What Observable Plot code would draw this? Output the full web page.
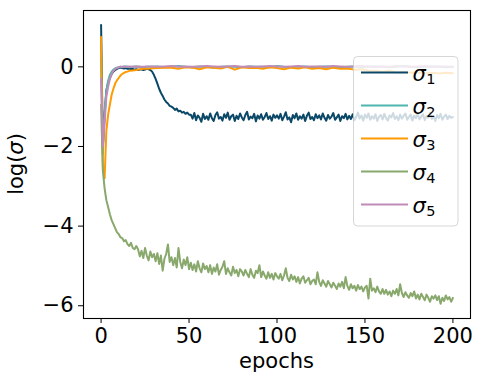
<!DOCTYPE html>
<html>
<head>
<meta charset="utf-8">
<script src="https://cdn.jsdelivr.net/npm/d3@7"></script>
<script src="https://cdn.jsdelivr.net/npm/@observablehq/plot@0.6"></script>
<style>
  html, body { margin: 0; padding: 0; background: #fff; }
  #chart svg { display: block; }
</style>
</head>
<body>
<div id="chart"></div>
<script>
// ---- data ----
const seriesNames = ["σ1", "σ2", "σ3", "σ4", "σ5"];
const seriesSubs = ["1", "2", "3", "4", "5"];
const seriesColors = ["#0b4868", "#4fb5ae", "#ff9a00", "#88a86c", "#c08bb7"];
const xTicks = [0, 50, 100, 150, 200];
const yTicks = [0, -2, -4, -6];

// every epoch 0..200 for the two noisy series
const epochsA = d3.range(0, 201);
const sigma1 = [
  1.05,-2.0,-1.2,-0.6,-0.4,-0.28,-0.18,-0.12,-0.08,-0.05,-0.03,
  -0.02,-0.03,-0.04,-0.03,-0.05,-0.04,-0.06,-0.05,-0.07,-0.06,-0.08,-0.07,-0.06,-0.08,-0.07,-0.05,-0.06,-0.08,
  -0.12,-0.2,-0.3,-0.42,-0.55,-0.65,-0.73,-0.82,-0.88,-0.92,-0.98,-1.0,-1.03,-1.08,-1.05,-1.12,-1.1,-1.15,-1.13,-1.18,-1.15,-1.2,
  -1.2,-1.3,-1.16,-1.34,-1.22,-1.28,-1.38,-1.18,-1.31,-1.24,
  -1.33,-1.17,-1.29,-1.36,-1.21,-1.14,-1.3,-1.26,-1.35,-1.19,
  -1.28,-1.15,-1.33,-1.24,-1.2,-1.36,-1.23,-1.31,-1.17,-1.27,
  -1.34,-1.21,-1.13,-1.32,-1.25,-1.29,-1.18,-1.37,-1.22,-1.3,
  -1.19,-1.33,-1.26,-1.16,-1.31,-1.24,-1.35,-1.2,-1.28,-1.22,
  -1.3,-1.18,-1.34,-1.25,-1.14,-1.32,-1.27,-1.39,-1.21,-1.29,
  -1.17,-1.33,-1.24,-1.3,-1.2,-1.36,-1.23,-1.15,-1.31,-1.26,
  -1.34,-1.19,-1.29,-1.22,-1.32,-1.17,-1.28,-1.35,-1.21,-1.3,
  -1.25,-1.16,-1.33,-1.27,-1.2,-1.36,-1.24,-1.29,-1.18,-1.32,
  -1.23,-1.31,-1.19,-1.34,-1.26,-1.15,-1.3,-1.22,-1.35,-1.2,
  -1.28,-1.17,-1.33,-1.24,-1.3,-1.19,-1.36,-1.25,-1.21,-1.32,
  -1.18,-1.29,-1.35,-1.22,-1.27,-1.16,-1.31,-1.24,-1.34,-1.2,
  -1.3,-1.23,-1.17,-1.33,-1.26,-1.2,-1.35,-1.22,-1.29,-1.18,
  -1.32,-1.25,-1.19,-1.34,-1.23,-1.28,-1.16,-1.31,-1.24,-1.36,
  -1.21,-1.29,-1.18,-1.33,-1.25,-1.2,-1.31,-1.23,-1.28,-1.26
];
const sigma4 = [
  -0.95,-2.6,-3.05,-3.35,-3.52,-3.7,-3.85,-3.95,-4.05,-4.15,-4.2,
  -4.28,-4.3,-4.38,-4.35,-4.45,-4.5,-4.42,-4.55,-4.58,-4.5,
  -4.58,-4.76,-4.62,-4.8,-4.55,-4.74,-4.86,-4.64,-4.78,-4.7,
  -4.88,-4.68,-4.95,-4.74,-5.12,-4.82,-4.7,-4.46,-4.9,-4.78,
  -4.98,-4.8,-5.04,-4.55,-4.9,-5.06,-4.84,-4.98,-4.78,-5.08,
  -4.92,-5.1,-4.96,-5.14,-4.88,-5.06,-5.16,-4.94,-5.08,-5.0,
  -5.16,-4.98,-5.2,-5.04,-5.14,-4.96,-5.22,-5.1,-5.02,-4.88,
  -5.2,-5.06,-5.16,-5.24,-5.02,-5.18,-5.1,-5.26,-5.08,-5.14,
  -5.24,-5.1,-5.2,-5.28,-5.08,-5.22,-5.3,-5.12,-5.18,-4.98,
  -5.28,-5.14,-5.24,-5.32,-5.16,-5.3,-5.2,-5.34,-5.18,-5.26,
  -5.32,-5.2,-5.36,-5.24,-5.06,-5.3,-5.38,-5.22,-5.34,-5.26,
  -5.4,-5.28,-5.44,-5.32,-5.26,-5.42,-5.36,-5.3,-5.46,-5.38,
  -5.34,-5.46,-5.16,-5.4,-5.5,-5.36,-5.44,-5.52,-5.38,-5.46,
  -5.54,-5.42,-5.5,-5.58,-5.44,-5.52,-5.4,-5.56,-5.28,-5.5,
  -5.6,-5.46,-5.56,-5.5,-5.62,-5.48,-5.58,-5.52,-5.64,-5.54,
  -5.5,-5.82,-5.32,-5.62,-5.56,-5.66,-5.52,-5.64,-5.7,-5.58,
  -5.7,-5.6,-5.72,-5.64,-5.76,-5.62,-5.7,-5.58,-5.74,-5.46,
  -5.68,-5.78,-5.66,-5.74,-5.8,-5.68,-5.76,-5.64,-5.82,-5.72,
  -5.84,-5.7,-5.78,-5.86,-5.72,-5.8,-5.9,-5.76,-5.82,-5.74,
  -5.86,-5.76,-5.95,-5.8,-5.88,-5.74,-5.84,-5.78,-5.9,-5.8
];

// sampled epochs for the three series that settle near zero
const epochsB = [
  0,1,2,3,4,5,6,7,8,9,10,11,12,13,14,15,16,
  18,20,22,24,26,
  28,32,36,40,44,48,52,56,60,64,68,
  72,76,80,84,88,92,96,100,104,108,112,
  116,120,124,128,132,136,140,144,148,152,156,
  160,164,168,172,176,180,184,188,192,196,200
];
const sigma2 = [
  0.2,-2.2,-1.1,-0.6,-0.35,-0.2,-0.12,-0.07,-0.04,-0.02,-0.01,0,-0.01,0,0.01,0,-0.01,
  0,0.01,0,-0.01,0,
  0,0.01,-0.01,0,0.02,0,-0.01,0.01,0,-0.02,0,
  0.01,0,-0.01,0.01,0,0,-0.01,0.02,0,-0.01,0,
  0.01,-0.01,0,0.01,0,-0.02,0,0.01,-0.01,0,0.01,
  0,-0.01,0,0.02,0,-0.01,0,0.01,0,-0.01,0
];
const sigma3 = [
  0.75,-2.5,-2.8,-1.6,-1.2,-0.95,-0.7,-0.55,-0.42,-0.34,-0.28,-0.22,-0.18,-0.15,-0.13,-0.12,-0.1,
  -0.09,-0.08,-0.06,-0.05,-0.05,
  -0.04,-0.03,-0.02,-0.02,-0.05,-0.01,-0.02,-0.06,-0.01,-0.02,-0.04,
  0,-0.07,-0.01,-0.03,-0.02,-0.05,-0.01,-0.03,-0.06,-0.02,-0.04,
  -0.01,-0.05,-0.03,-0.06,-0.02,-0.05,-0.04,-0.07,-0.06,-0.09,-0.1,
  -0.12,-0.1,-0.14,-0.13,-0.15,-0.14,-0.16,-0.15,-0.17,-0.15,-0.16
];
const sigma5 = [
  -0.3,-2.0,-1.4,-0.75,-0.5,-0.3,-0.18,-0.1,-0.05,-0.03,-0.01,0,0,0.01,0,0,0.01,
  0,0.01,0,0,0.01,
  0.01,0,0.01,0.02,0,0.01,0,0.01,0.02,0.01,0,
  0.01,0.02,0,0.01,0,0.01,0.02,0.01,0,0.01,0.02,
  0,0.01,0.01,0,0.02,0.01,0,0.01,0.02,0.01,0,
  0.01,0,0.02,0.01,0,0.01,0.02,0,0.01,0.01,0
];

// ---- build tables ----
const tableA = (vals) => epochsA.map((e, i) => ({epoch: e, value: vals[i]}));
const tableB = (vals) => epochsB.map((e, i) => ({epoch: e, value: vals[i]}));
const lines = [
  tableA(sigma1), tableB(sigma2), tableB(sigma3), tableA(sigma4), tableB(sigma5)
];

const W = 483, H = 383;
const FONT = "DejaVu Sans";

const chart = Plot.plot({
  width: W,
  height: H,
  marginLeft: 83,
  marginRight: 13,
  marginTop: 10,
  marginBottom: 65,
  style: {fontFamily: FONT, fontSize: "21px", color: "black", background: "white"},
  x: {domain: [-10, 210], ticks: xTicks, tickSize: 5, tickPadding: 5, label: null, tickFormat: d3.format("d")},
  y: {domain: [-6.32, 1.415], ticks: yTicks, tickSize: 5, tickPadding: 5, label: null},
  marks: [
    ...lines.map((data, i) => Plot.line(data, {
      x: "epoch", y: "value", stroke: seriesColors[i], strokeWidth: 2, strokeLinejoin: "round"
    })),
    Plot.frame({stroke: "black", strokeWidth: 1.1})
  ]
});
document.getElementById("chart").appendChild(chart);

// ---- axis labels and legend (matplotlib-like) ----
const svg = d3.select(chart);
svg.append("text")
  .attr("x", 276.5).attr("y", 368)
  .attr("text-anchor", "middle")
  .attr("font-family", FONT).attr("font-size", 21)
  .attr("fill", "black")
  .text("epochs");

const yl = svg.append("text")
  .attr("transform", "translate(16,164) rotate(-90)")
  .attr("dy", "0.35em")
  .attr("text-anchor", "middle")
  .attr("font-family", FONT).attr("font-size", 21)
  .attr("fill", "black");
yl.append("tspan").text("log(");
yl.append("tspan").attr("font-style", "italic").text("σ");
yl.append("tspan").text(")");

const lg = svg.append("g");
lg.append("rect")
  .attr("x", 353.5).attr("y", 56.5).attr("width", 104.5).attr("height", 169.5)
  .attr("rx", 4).attr("ry", 4)
  .attr("fill", "white").attr("fill-opacity", 0.8)
  .attr("stroke", "#cccccc").attr("stroke-opacity", 0.8).attr("stroke-width", 1);
seriesNames.forEach((name, i) => {
  const cy = 72.5 + i * 33;
  lg.append("line")
    .attr("x1", 361).attr("x2", 408).attr("y1", cy).attr("y2", cy)
    .attr("stroke", seriesColors[i]).attr("stroke-width", 2);
  const t = lg.append("text")
    .attr("x", 424).attr("y", cy + 8.5)
    .attr("font-family", FONT).attr("font-size", 21).attr("fill", "black");
  t.append("tspan").attr("font-style", "italic").text("σ");
  t.append("tspan").attr("font-size", 14.5).attr("dy", 2.5).attr("dx", 0.5).text(seriesSubs[i]);
});
</script>
</body>
</html>
